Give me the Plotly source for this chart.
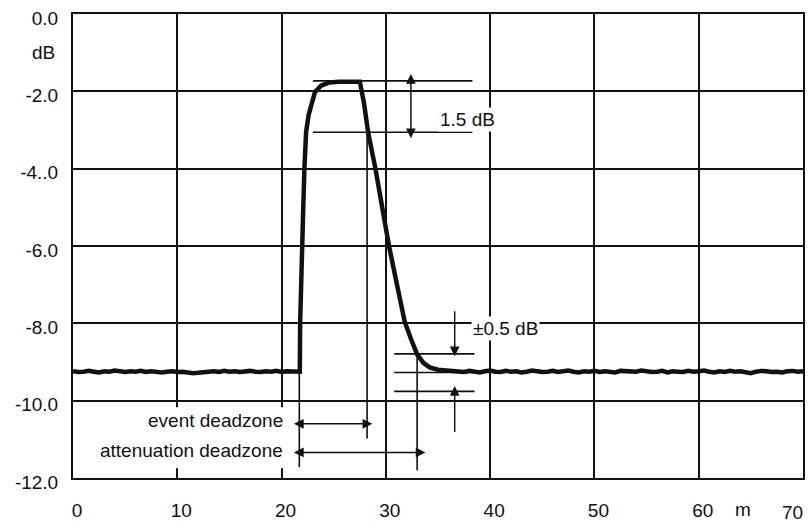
import plotly.graph_objects as go

# ---------------- data ----------------
left_x = [0, 0.5, 1, 1.5, 2, 2.5, 3, 3.5, 4, 4.5, 5, 5.5, 6, 6.5, 7, 7.5, 8, 8.5, 9, 9.5,
          10, 10.5, 11, 11.5, 12, 12.5, 13, 13.5, 14, 14.5, 15, 15.5, 16, 16.5, 17, 17.5,
          18, 18.5, 19, 19.5, 20, 20.5, 21, 21.5, 21.75]
left_y = [-9.24, -9.26, -9.25, -9.23, -9.25, -9.27, -9.24, -9.25, -9.22, -9.25,
          -9.26, -9.24, -9.25, -9.23, -9.26, -9.24, -9.25, -9.27, -9.25, -9.24,
          -9.26, -9.25, -9.27, -9.29, -9.28, -9.26, -9.25, -9.24, -9.26, -9.23,
          -9.25, -9.24, -9.26, -9.25, -9.23, -9.25, -9.26, -9.24, -9.25, -9.23,
          -9.26, -9.24, -9.25, -9.24, -9.25]

pulse_x = [21.78, 21.85, 21.96, 22.08, 22.19, 22.35, 22.6, 22.9, 23.2, 23.8, 24.6, 25.5,
           27.5, 27.9, 28.3, 29.0, 30.3, 31.3, 31.8, 32.4, 33.0, 33.6, 34.2, 35.0]
pulse_y = [-8.0, -7.0, -6.0, -5.0, -4.0, -3.06, -2.6, -2.27, -2.02, -1.85, -1.77, -1.75,
           -1.75, -2.3, -3.06, -4.0, -6.0, -7.3, -7.95, -8.4, -8.8, -9.02, -9.14, -9.2]

right_x = [35.5, 36, 36.5, 37, 37.5, 38, 38.5, 39, 39.5, 40,
           40.5, 41, 41.5, 42, 42.5, 43, 43.5, 44, 44.5, 45,
           45.5, 46, 46.5, 47, 47.5, 48, 48.5, 49, 49.5, 50,
           50.5, 51, 51.5, 52, 52.5, 53, 53.5, 54, 54.5, 55,
           55.5, 56, 56.5, 57, 57.5, 58, 58.5, 59, 59.5, 60,
           60.5, 61, 61.5, 62, 62.5, 63, 63.5, 64, 64.5, 65,
           65.5, 66, 66.5, 67, 67.5, 68, 68.5, 69, 69.5, 70]
right_y = [-9.21, -9.23, -9.25, -9.24, -9.26, -9.23, -9.25, -9.27, -9.24, -9.22,
           -9.25, -9.26, -9.23, -9.25, -9.24, -9.27, -9.25, -9.22, -9.24, -9.26,
           -9.25, -9.23, -9.26, -9.24, -9.22, -9.25, -9.27, -9.24, -9.25, -9.23,
           -9.26, -9.24, -9.25, -9.27, -9.23, -9.24, -9.26, -9.25, -9.22, -9.24,
           -9.26, -9.25, -9.23, -9.27, -9.24, -9.25, -9.26, -9.23, -9.25, -9.24,
           -9.22, -9.25, -9.27, -9.24, -9.26, -9.23, -9.25, -9.24, -9.26, -9.29,
           -9.25, -9.23, -9.24, -9.26, -9.25, -9.27, -9.24, -9.23, -9.25, -9.24]

x_tickvals = [0, 10, 20, 30, 40, 50, 60, 70]
x_ticktext = ["0", "10", "20", "30", "40", "50", "60", ""]
x_end_label = "70"
x_end_pos = 70
x_unit_label = "m"
x_unit_pos = 64.2

y_tickvals = [0, -2, -4, -6, -8, -10, -12]
y_ticktext = ["0.0", "-2.0", "-4..0", "-6.0", "-8.0", "-10.0", "-12.0"]
y_unit_label = "dB"
y_unit_pos = -1

# marker lines: (x0, y0, x1, y1)
level_lines = [
    (23.0, -1.73, 38.3, -1.73),
    (23.0, -3.06, 38.3, -3.06),
    (30.8, -8.79, 38.5, -8.79),
    (30.8, -9.27, 38.5, -9.27),
    (30.8, -9.76, 38.5, -9.76),
]
deadzone_lines = [
    (21.7, -9.25, 21.7, -11.72),
    (28.2, -3.06, 28.2, -10.98),
    (33.0, -8.85, 33.0, -11.8),
]
# arrows: (x_from, y_from, x_to, y_to, double)
arrows = [
    (32.4, -3.25, 32.4, -1.55, True),
    (36.6, -7.65, 36.6, -8.85, False),
    (36.6, -10.85, 36.6, -9.62, False),
    (21.04, -10.6, 28.7, -10.6, True),
    (21.04, -11.34, 33.8, -11.34, True),
]
labels = [
    ("1.5 dB", 37.8, -2.74, "center"),
    ("±0.5 dB", 41.5, -8.13, "center"),
    ("event deadzone", 20.3, -10.5, "right"),
    ("attenuation deadzone", 20.3, -11.29, "right"),
]

INK = "#111111"
FONT = "Liberation Sans"
FS = 19

fig = go.Figure()
fig.add_trace(go.Scatter(
    x=left_x + pulse_x + right_x,
    y=left_y + pulse_y + right_y,
    mode="lines",
    line=dict(color=INK, width=4.5),
    hoverinfo="skip",
))

shapes = [dict(type="rect", xref="x", yref="y", x0=2.0, x1=20.8, y0=-10.17, y1=-11.75,
               fillcolor="white", line=dict(width=0), layer="above")]
for (x0, y0, x1, y1) in level_lines + deadzone_lines:
    shapes.append(dict(type="line", xref="x", yref="y", x0=x0, y0=y0, x1=x1, y1=y1,
                       line=dict(color=INK, width=1.6), layer="above"))

annotations = []
for (xf, yf, xt, yt, dbl) in arrows:
    annotations.append(dict(
        x=xt, y=yt, ax=xf, ay=yf, xref="x", yref="y", axref="x", ayref="y",
        text="", showarrow=True, arrowhead=2, startarrowhead=2, arrowsize=1.3,
        startarrowsize=1.3, arrowwidth=1.5, arrowcolor=INK,
        arrowside="end+start" if dbl else "end",
    ))
for (txt, x, y, anc) in labels:
    annotations.append(dict(
        x=x, y=y, xref="x", yref="y", text=txt, showarrow=False, xanchor=anc,
        yanchor="middle", bgcolor="white", borderpad=1,
        font=dict(family=FONT, size=FS, color=INK),
    ))
annotations.append(dict(x=x_unit_pos, y=0, xref="x", yref="paper", text=x_unit_label,
                        showarrow=False, yanchor="middle", yshift=-31,
                        font=dict(family=FONT, size=FS, color=INK)))
annotations.append(dict(x=x_end_pos, y=0, xref="x", yref="paper", text=x_end_label,
                        showarrow=False, xanchor="right", xshift=2, yanchor="middle",
                        yshift=-34, font=dict(family=FONT, size=FS, color=INK)))
annotations.append(dict(x=0, y=y_unit_pos, xref="paper", yref="y", text=y_unit_label,
                        showarrow=False, xanchor="center", xshift=-30, yanchor="middle",
                        font=dict(family=FONT, size=FS, color=INK)))

fig.update_layout(
    width=809, height=525,
    margin=dict(l=73, r=4, t=14, b=40),
    paper_bgcolor="white", plot_bgcolor="white",
    showlegend=False,
    shapes=shapes, annotations=annotations,
    font=dict(family=FONT, size=FS, color=INK),
    xaxis=dict(range=[0, 70], tickmode="array", tickvals=x_tickvals, ticktext=x_ticktext,
               showgrid=True, gridcolor=INK, gridwidth=1.5, zeroline=False,
               showline=True, linecolor=INK, linewidth=2, mirror=True,
               ticks="", ticklabelstandoff=14, ticklabelshift=4, fixedrange=True),
    yaxis=dict(range=[-12, 0], tickmode="array", tickvals=y_tickvals, ticktext=y_ticktext,
               showgrid=True, gridcolor=INK, gridwidth=1.5, zeroline=False,
               showline=True, linecolor=INK, linewidth=2, mirror=True,
               ticks="", ticklabelstandoff=9, ticklabelshift=4, fixedrange=True),
)

fig.write_html("out.html")
